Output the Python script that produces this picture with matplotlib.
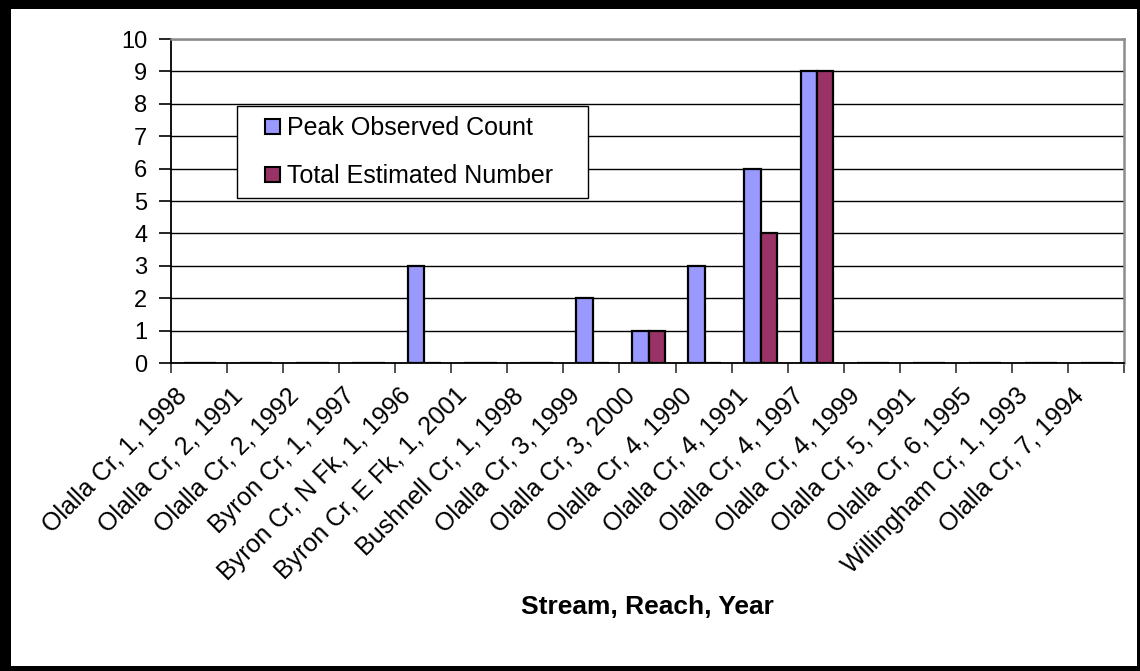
import matplotlib
matplotlib.use('Agg')
import matplotlib.pyplot as plt
from matplotlib.patches import Rectangle, Patch
from matplotlib.legend_handler import HandlerPatch
import numpy as np

categories = [
    "Olalla Cr, 1, 1998", "Olalla Cr, 2, 1991", "Olalla Cr, 2, 1992",
    "Byron Cr, 1, 1997", "Byron Cr, N Fk, 1, 1996", "Byron Cr, E Fk, 1, 2001",
    "Bushnell Cr, 1, 1998", "Olalla Cr, 3, 1999", "Olalla Cr, 3, 2000",
    "Olalla Cr, 4, 1990", "Olalla Cr, 4, 1991", "Olalla Cr, 4, 1997",
    "Olalla Cr, 4, 1999", "Olalla Cr, 5, 1991", "Olalla Cr, 6, 1995",
    "Willingham Cr, 1, 1993", "Olalla Cr, 7, 1994",
]
peak_observed = [0, 0, 0, 0, 3, 0, 0, 2, 1, 3, 6, 9, 0, 0, 0, 0, 0]
total_estimated = [0, 0, 0, 0, 0, 0, 0, 0, 1, 0, 4, 9, 0, 0, 0, 0, 0]
series_names = ["Peak Observed Count", "Total Estimated Number"]
y_ticks = list(range(0, 11))
x_title = "Stream, Reach, Year"

BLUE = "#9999FF"
RED = "#993366"
FONT = "Liberation Sans"

W, H = 1140, 671
fig = plt.figure(figsize=(W / 100, H / 100), dpi=100)
fig.patch.set_facecolor("black")
fig.add_artist(Rectangle((11 / W, 5 / H), (1137 - 11) / W, (662 - 5) / H,
                         transform=fig.transFigure, facecolor="white",
                         edgecolor="none", zorder=0))

left, right, top, bottom = 171, 1124, 39, 363
ax = fig.add_axes([left / W, (H - bottom) / H, (right - left) / W, (bottom - top) / H])
ax.set_facecolor("white")

x = np.arange(len(categories))
bw = 0.29
ax.bar(x - bw / 2 + 0.02, peak_observed, width=bw, color=BLUE, edgecolor="black",
       linewidth=1.6, zorder=3)
ax.bar(x + bw / 2 + 0.02, total_estimated, width=bw, color=RED, edgecolor="black",
       linewidth=1.6, zorder=3)

ax.set_xlim(-0.5, len(categories) - 0.5)
ax.set_ylim(0, 10)
ax.set_yticks(y_ticks)
ax.set_yticklabels([str(v) for v in y_ticks], fontsize=17, family=FONT)
ax.yaxis.grid(True, color="black", linewidth=1.0, zorder=0)
ax.set_axisbelow(True)

# category boundary ticks
ax.set_xticks(np.arange(len(categories) + 1) - 0.5)
ax.set_xticklabels([""] * (len(categories) + 1))
ax.tick_params(axis="x", which="major", direction="out", length=7, width=1.2,
               color="#333333")
# labels (minor ticks, offset like the original)
ax.set_xticks(x - 0.28, minor=True)
ax.set_xticklabels(categories, minor=True, rotation=45, ha="right",
                   va="center", rotation_mode="anchor", fontsize=18, family=FONT)
ax.tick_params(axis="x", which="minor", length=0, pad=21)
ax.tick_params(axis="y", direction="out", length=9, width=1.2, pad=8)

for s in ["left", "bottom"]:
    ax.spines[s].set_color("black")
    ax.spines[s].set_linewidth(1.3)
for s in ["top", "right"]:
    ax.spines[s].set_color("#8c8c8c")
    ax.spines[s].set_linewidth(1.8)

ax.set_xlabel(x_title, fontsize=19, fontweight="bold", family=FONT)
ax.xaxis.set_label_coords(0.5, -(607 - bottom) / (bottom - top))
ax.xaxis.label.set_va("center")


def square_patch(legend, orig_handle, xdescent, ydescent, width, height, fontsize):
    s = 0.6 * fontsize
    return Rectangle((-xdescent + width - s, -ydescent + (height - s) / 2), s, s)


handles = [Patch(facecolor=BLUE, edgecolor="black", linewidth=1.5),
           Patch(facecolor=RED, edgecolor="black", linewidth=1.5)]
lx0, ly0, lx1, ly1 = 237, 106, 588, 199
leg = ax.legend(handles, series_names, loc="upper left",
                bbox_to_anchor=(lx0 / W, (H - ly0) / H, (lx1 - lx0) / W, 0),
                bbox_transform=fig.transFigure, mode="expand",
                handler_map={Patch: HandlerPatch(patch_func=square_patch)},
                prop={"family": FONT, "size": 18}, frameon=True, fancybox=False,
                edgecolor="black", framealpha=1, borderpad=0.4, labelspacing=0.95,
                handlelength=1.32, handleheight=0.7, handletextpad=0.28,
                borderaxespad=0)
leg.get_frame().set_linewidth(1.0)
leg.set_zorder(5)

fig.savefig("out.png", dpi=100, facecolor=fig.get_facecolor())
